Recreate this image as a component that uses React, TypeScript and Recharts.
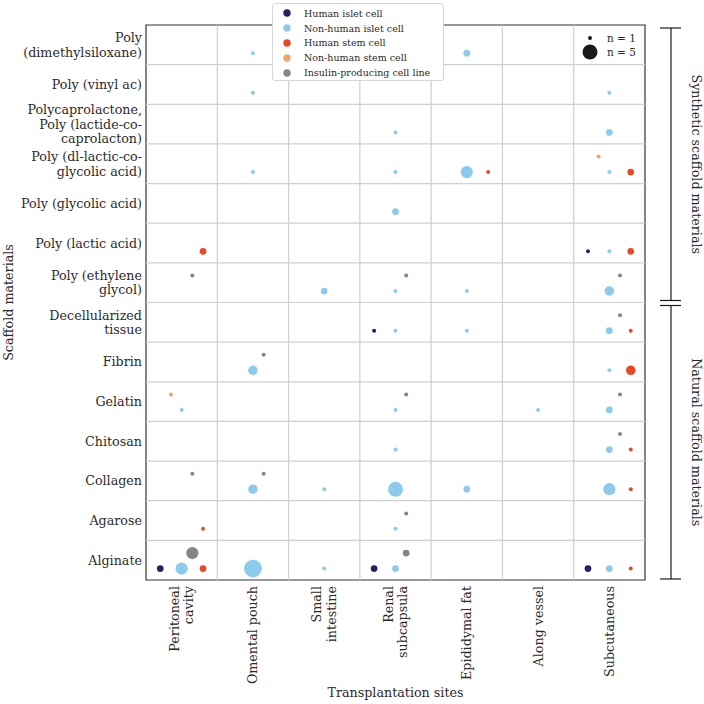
import React from 'react'
import { ScatterChart, Scatter, XAxis, YAxis, ReferenceLine, ReferenceArea, Label } from 'recharts'

const SITES = [
  'Peritoneal\ncavity',
  'Omental pouch',
  'Small\nintestine',
  'Renal\nsubcapsula',
  'Epididymal fat',
  'Along vessel',
  'Subcutaneous',
]

const MATERIALS = [
  'Poly\n(dimethylsiloxane)',
  'Poly (vinyl ac)',
  'Polycaprolactone,\nPoly (lactide-co-\ncaprolacton)',
  'Poly (dl-lactic-co-\nglycolic acid)',
  'Poly (glycolic acid)',
  'Poly (lactic acid)',
  'Poly (ethylene\nglycol)',
  'Decellularized\ntissue',
  'Fibrin',
  'Gelatin',
  'Chitosan',
  'Collagen',
  'Agarose',
  'Alginate',
]

const CELL_TYPES = [
  'Human islet cell',
  'Non-human islet cell',
  'Human stem cell',
  'Non-human stem cell',
  'Insulin-producing cell line',
]

const COLORS = ['#262262', '#8dcbec', '#e8472a', '#f4a56a', '#858585']

// [material index, site index, number of studies]
const HUMAN_ISLET = [
  [5, 6, 1], [7, 3, 1], [13, 0, 2], [13, 3, 2], [13, 6, 2],
]
const NON_HUMAN_ISLET = [
  [0, 1, 1], [0, 4, 2], [1, 1, 1], [1, 6, 1], [2, 3, 1], [2, 6, 2],
  [3, 1, 1], [3, 3, 1], [3, 4, 4], [3, 6, 1], [4, 3, 2], [5, 6, 1],
  [6, 2, 2], [6, 3, 1], [6, 4, 1], [6, 6, 3], [7, 3, 1], [7, 4, 1], [7, 6, 2],
  [8, 1, 3], [8, 6, 1], [9, 0, 1], [9, 3, 1], [9, 5, 1], [9, 6, 2],
  [10, 3, 1], [10, 6, 2], [11, 1, 3], [11, 2, 1], [11, 3, 5], [11, 4, 2], [11, 6, 4],
  [12, 3, 1], [13, 0, 4], [13, 1, 6], [13, 2, 1], [13, 3, 2], [13, 6, 2],
]
const HUMAN_STEM = [
  [3, 4, 1], [3, 6, 2], [5, 0, 2], [5, 6, 2], [7, 6, 1], [8, 6, 3],
  [10, 6, 1], [11, 6, 1], [12, 0, 1], [13, 0, 2], [13, 6, 1],
]
const NON_HUMAN_STEM = [
  [3, 6, 1], [9, 0, 1],
]
const INSULIN_LINE = [
  [6, 0, 1], [6, 3, 1], [6, 6, 1], [7, 6, 1], [8, 1, 1], [9, 3, 1], [9, 6, 1],
  [10, 6, 1], [11, 0, 1], [11, 1, 1], [12, 3, 1], [13, 0, 4], [13, 3, 2],
]

const COUNTS = [HUMAN_ISLET, NON_HUMAN_ISLET, HUMAN_STEM, NON_HUMAN_STEM, INSULIN_LINE]

// where each cell type sits inside its grid cell (column / row units)
const OFFSETS = [[-0.3, 0.21], [0, 0.21], [0.3, 0.21], [-0.15, -0.18], [0.15, -0.18]]

const W = 704
const H = 704
const TOP = 25
const LEFT = 146
const RIGHT = 59
const BOTTOM = 124
const FONT = '"DejaVu Serif", serif'
const TEXT = '#2b2b2b'
const FS = 12.7
const LINE_H = 14.5
const SYNTHETIC_ROWS = 7

const radius = (n: number) => 0.625 + 1.375 * n

function MaterialTick({ x, y, payload }: any) {
  const lines = MATERIALS[Math.floor(payload.value)].split('\n')
  return (
    <text x={x} y={y} textAnchor="end" fontSize={FS} fill={TEXT} fontFamily={FONT}>
      {lines.map((l, i) => (
        <tspan key={i} x={x} dy={i === 0 ? -((lines.length - 1) / 2) * LINE_H + 4.5 : LINE_H}>
          {l}
        </tspan>
      ))}
    </text>
  )
}

function SiteTick({ x, y, payload }: any) {
  const lines = SITES[Math.floor(payload.value)].split('\n')
  return (
    <text
      x={x}
      y={y}
      transform={`rotate(-90 ${x} ${y})`}
      textAnchor="end"
      fontSize={FS}
      fill={TEXT}
      fontFamily={FONT}
    >
      {lines.map((l, i) => (
        <tspan key={i} x={x} dy={i === 0 ? -((lines.length - 1) / 2) * LINE_H + 4.5 : LINE_H}>
          {l}
        </tspan>
      ))}
    </text>
  )
}

function Brackets() {
  const rowH = (H - TOP - BOTTOM) / MATERIALS.length
  const split = TOP + SYNTHETIC_ROWS * rowH
  const groups = [
    { label: 'Synthetic scaffold materials', y1: TOP + 3, y2: split - 2 },
    { label: 'Natural scaffold materials', y1: split + 3, y2: H - BOTTOM - 1 },
  ]
  const bx = W - RIGHT + 26
  return (
    <svg width={W} height={H} style={{ position: 'absolute', left: 0, top: 0, pointerEvents: 'none' }}>
      {groups.map((g) => (
        <g key={g.label} stroke="#1a1a1a" strokeWidth={1.2}>
          <line x1={bx} x2={bx} y1={g.y1} y2={g.y2} />
          <line x1={bx - 11} x2={bx + 10} y1={g.y1} y2={g.y1} />
          <line x1={bx - 11} x2={bx + 10} y1={g.y2} y2={g.y2} />
          <text
            x={bx + 25}
            y={(g.y1 + g.y2) / 2}
            transform={`rotate(90 ${bx + 25} ${(g.y1 + g.y2) / 2})`}
            textAnchor="middle"
            dominantBaseline="central"
            fontSize={FS}
            fill={TEXT}
            stroke="none"
            fontFamily={FONT}
          >
            {g.label}
          </text>
        </g>
      ))}
      {[1, 5].map((n, i) => (
        <g key={n}>
          <circle cx={590} cy={38 + i * 14} r={radius(n)} fill="#1a1a1a" />
          <text x={607} y={38 + i * 14} dominantBaseline="central" fontSize={10.5} fill={TEXT} fontFamily={FONT}>
            n = {n}
          </text>
        </g>
      ))}
    </svg>
  )
}

function TypeLegend() {
  return (
    <div
      style={{
        position: 'absolute',
        left: 272,
        top: 3,
        width: 172,
        height: 78,
        boxSizing: 'border-box',
        background: '#fff',
        border: '1px solid #d6d6d6',
        borderRadius: 3,
        padding: '2px 0 0 9px',
        fontFamily: FONT,
        fontSize: 9.5,
        color: TEXT,
      }}
    >
      {CELL_TYPES.map((t, i) => (
        <div key={t} style={{ display: 'flex', alignItems: 'center', height: 14.8 }}>
          <svg width={22} height={10}>
            <circle cx={5} cy={5} r={3.7} fill={COLORS[i]} />
          </svg>
          <span>{t}</span>
        </div>
      ))}
    </div>
  )
}

export default function App() {
  const series = COUNTS.map((rows, t) =>
    rows.map(([m, s, n]) => ({
      x: s + 0.5 + OFFSETS[t][0],
      y: m + 0.5 + OFFSETS[t][1],
      n,
    }))
  )

  return (
    <div style={{ position: 'absolute', left: 0, top: 0, width: W, height: H, background: '#fff' }}>
      <ScatterChart width={W} height={H} margin={{ top: TOP, right: RIGHT, bottom: 0, left: 0 }}>
        <XAxis
          type="number"
          dataKey="x"
          domain={[0, SITES.length]}
          ticks={SITES.map((_, i) => i + 0.5)}
          interval={0}
          height={BOTTOM}
          axisLine={false}
          tickLine={false}
          tickSize={0}
          tickMargin={6}
          tick={<SiteTick />}
        >
          <Label
            content={({ viewBox }: any) => (
              <text
                x={viewBox.x + viewBox.width / 2}
                y={H - 7}
                textAnchor="middle"
                fontSize={FS}
                fill={TEXT}
                fontFamily={FONT}
              >
                Transplantation sites
              </text>
            )}
          />
        </XAxis>
        <YAxis
          type="number"
          dataKey="y"
          reversed
          domain={[0, MATERIALS.length]}
          ticks={MATERIALS.map((_, i) => i + 0.5)}
          interval={0}
          width={LEFT}
          axisLine={false}
          tickLine={false}
          tickSize={0}
          tickMargin={4}
          tick={<MaterialTick />}
        >
          <Label
            content={({ viewBox }: any) => {
              const cy = viewBox.y + viewBox.height / 2
              return (
                <text
                  x={8}
                  y={cy}
                  transform={`rotate(-90 8 ${cy})`}
                  textAnchor="middle"
                  dominantBaseline="central"
                  fontSize={FS}
                  fill={TEXT}
                  fontFamily={FONT}
                >
                  Scaffold materials
                </text>
              )
            }}
          />
        </YAxis>
        {SITES.slice(1).map((_, i) => (
          <ReferenceLine key={'v' + i} x={i + 1} stroke="#cfcfcf" strokeWidth={1.2} />
        ))}
        {MATERIALS.slice(1).map((_, i) => (
          <ReferenceLine key={'h' + i} y={i + 1} stroke="#cfcfcf" strokeWidth={1.2} />
        ))}
        <ReferenceArea
          x1={0}
          x2={SITES.length}
          y1={0}
          y2={MATERIALS.length}
          fill="none"
          stroke="#333"
          strokeWidth={1.2}
        />
        {series.map((data, t) => (
          <Scatter
            key={CELL_TYPES[t]}
            name={CELL_TYPES[t]}
            data={data}
            fill={COLORS[t]}
            isAnimationActive={false}
            shape={(p: any) => <circle cx={p.cx} cy={p.cy} r={radius(p.payload.n)} fill={COLORS[t]} />}
          />
        ))}
      </ScatterChart>
      <Brackets />
      <TypeLegend />
    </div>
  )
}
